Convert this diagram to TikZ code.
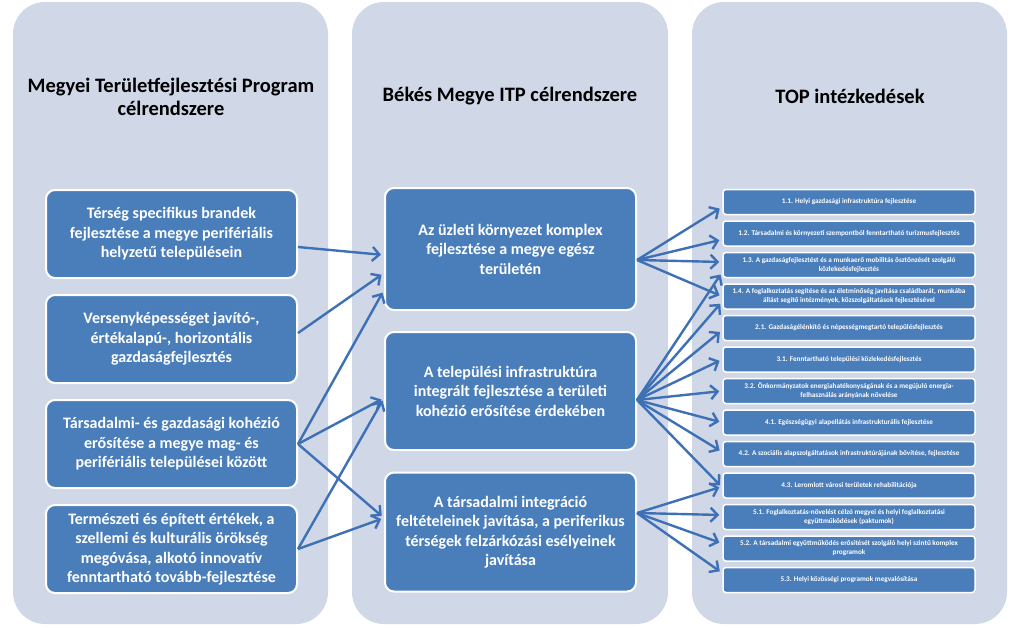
\documentclass[tikz,border=0pt]{standalone}
\usepackage{fontspec}
\setmainfont{Carlito}
\usetikzlibrary{arrows.meta}
\definecolor{colbg}{RGB}{208,216,232}
\definecolor{boxblue}{RGB}{74,126,187}
\definecolor{arrblue}{RGB}{62,112,182}

\begin{document}
\begin{tikzpicture}[x=1pt,y=-1pt,
    col/.style={fill=colbg,rounded corners=32pt},
    title/.style={font=\bfseries\fontsize{20.5}{23.5}\selectfont,align=center},
    bigbox/.style={draw=white,line width=2pt,fill=boxblue,rounded corners=9pt,text=white,
      font=\bfseries\fontsize{16}{19.5}\selectfont,align=center,minimum width=251pt,inner sep=2pt},
    topbox/.style={draw=white,line width=1.5pt,fill=boxblue,rounded corners=3pt,text=white,
      font=\bfseries\fontsize{7.2}{9}\selectfont,align=center,minimum width=252pt,minimum height=25pt,inner sep=1pt},
    link/.style={draw=arrblue,line width=2.4pt,-{Straight Barb[length=7pt,width=14pt]},shorten >=3pt}]
  \useasboundingbox (0,0) rectangle (1024,627);
  \fill[white] (0,0) rectangle (1024,627);

  % Columns
  \fill[col] (13,2) rectangle (328,624);
  \fill[col] (352,2) rectangle (668,624);
  \fill[col] (692,2) rectangle (1007,624);

  \node[title] (t1) at (171,97) {Megyei Területfejlesztési Program\\célrendszere};
  \node[title] (t2) at (510,96) {Békés Megye ITP célrendszere};
  \node[title] (t3) at (850,96) {TOP intézkedések};

  % Megyei program
  \node[bigbox,minimum height=88pt] (mtp1) at (171.5,234) {Térség specifikus brandek\\fejlesztése a megye perifériális\\helyzetű településein};
  \node[bigbox,minimum height=88pt] (mtp2) at (171.5,339) {Versenyképességet javító-,\\értékalapú-, horizontális\\gazdaságfejlesztés};
  \node[bigbox,minimum height=88pt] (mtp3) at (171.5,444) {Társadalmi- és gazdasági kohézió\\erősítése a megye mag- és\\perifériális települései között};
  \node[bigbox,minimum height=88pt] (mtp4) at (171.5,549) {Természeti és épített értékek, a\\szellemi és kulturális örökség\\megóvása, alkotó innovatív\\fenntartható tovább-fejlesztése};

  % ITP
  \node[bigbox,minimum height=122pt] (itp1) at (510.5,249) {Az üzleti környezet komplex\\fejlesztése a megye egész\\területén};
  \node[bigbox,minimum height=118pt] (itp2) at (510.5,391) {A települési infrastruktúra\\integrált fejlesztése a területi\\kohézió erősítése érdekében};
  \node[bigbox,minimum height=119pt] (itp3) at (510.5,532) {A társadalmi integráció\\feltételeinek javítása, a periferikus\\térségek felzárkózási esélyeinek\\javítása};

  % TOP
  \foreach \txt [count=\i] in {
      {1.1. Helyi gazdasági infrastruktúra fejlesztése},
      {1.2. Társadalmi és környezeti szempontból fenntartható turizmusfejlesztés},
      {1.3. A gazdaságfejlesztést és a munkaerő mobilitás ösztönzését szolgáló\\közlekedésfejlesztés},
      {1.4. A foglalkoztatás segítése és az életminőség javítása családbarát, munkába\\állást segítő intézmények, közszolgáltatások fejlesztésével},
      {2.1. Gazdaságélénkítő és népességmegtartó településfejlesztés},
      {3.1. Fenntartható települési közlekedésfejlesztés},
      {3.2. Önkormányzatok energiahatékonyságának és a megújuló energia-\\felhasználás arányának növelése},
      {4.1. Egészségügyi alapellátás infrastrukturális fejlesztése},
      {4.2. A szociális alapszolgáltatások infrastruktúrájának bővítése, fejlesztése},
      {4.3. Leromlott városi területek rehabilitációja},
      {5.1. Foglalkoztatás-növelést célzó megyei és helyi foglalkoztatási\\együttműködések (paktumok)},
      {5.2. A társadalmi együttműködés erősítését szolgáló helyi szintű komplex\\programok},
      {5.3. Helyi közösségi programok megvalósítása}}
    \node[topbox] (top\i) at (849,{202+31.5*(\i-1)}) {\txt};

  % Arrows left
  \draw[link] ([yshift=-13pt]mtp1.east) -- ([yshift=-6pt]itp1.west);
  \draw[link] ([yshift=6pt]mtp2.east) -- ([yshift=-24pt]itp1.west);
  \draw[link] (mtp3.east) -- ([yshift=-41pt]itp1.west);
  \draw[link] (mtp3.east) -- ([yshift=-7pt]itp2.west);
  \draw[link] (mtp3.east) -- ([yshift=14pt]itp3.west);
  \draw[link] (mtp4.east) -- ([yshift=-7pt]itp2.west);
  \draw[link] (mtp4.east) -- ([yshift=14pt]itp3.west);

  % Arrows right
  \foreach \t/\s in {1/-5,2/-6,3/3,4/0}
    \draw[link] ([yshift=-11pt]itp1.east) -- ([yshift=\s pt]top\t.west);
  \foreach \t/\s in {3/-7,4/-5,5/-2,6/0,7/0,8/0,9/2,10/-2}
    \draw[link] ([yshift=-9pt]itp2.east) -- ([yshift=\s pt]top\t.west);
  \foreach \t/\s in {10/-1,11/2,12/5,13/7}
    \draw[link] ([yshift=19pt]itp3.east) -- ([yshift=\s pt]top\t.west);
\end{tikzpicture}
\end{document}
